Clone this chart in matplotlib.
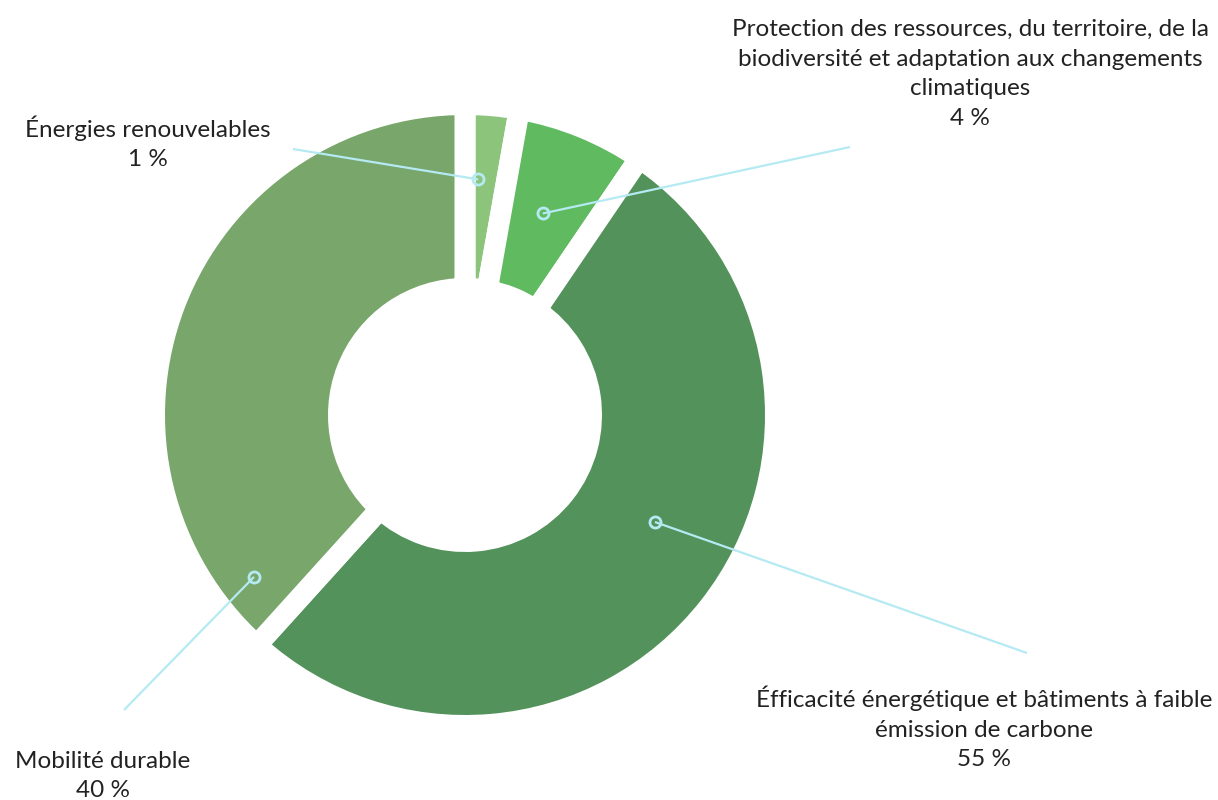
import numpy as np
import matplotlib
matplotlib.use('Agg')
import matplotlib.pyplot as plt

# slices, clockwise from 12 o'clock
labels = ['Énergies renouvelables',
          'Protection des ressources, du territoire, de la\nbiodiversité et adaptation aux changements\nclimatiques',
          'Éfficacité énergétique et bâtiments à faible\némission de carbone',
          'Mobilité durable']
pct_text = ['1 %', '4 %', '55 %', '40 %']
# slice sizes as drawn in the picture (%)
shares = [2.8, 6.7, 52.2, 38.3]
colors = ['#8dc47c', '#60ba60', '#53925b', '#78a66b']

W, H = 1218, 800
fig = plt.figure(figsize=(W / 100, H / 100), dpi=100)
ax = fig.add_axes([0, 0, 1, 1])

cx, cy = 465, 800 - 415
r_out, r_in = 300, 137
gap = 21  # px, white stroke between slices

ax.pie(shares, colors=colors, startangle=90, counterclock=False,
       center=(cx, cy), radius=r_out + gap / 2,
       wedgeprops=dict(width=(r_out - r_in) + gap, edgecolor='white',
                       linewidth=gap * 72 / 100, joinstyle='miter'))
ax.set_xlim(0, W)
ax.set_ylim(0, H)
ax.set_aspect('equal')
ax.axis('off')

# leader lines: (angle from top clockwise, radius) of the marker, end point, label block centre
leaders = [
    ((3.2, 236), (293, 149), (148, 143)),
    ((21.1, 216), (850, 147), (970, 74)),
    ((119.4, 218), (1027, 653), (984, 728)),
    ((232.5, 266), (124, 710), (103, 776)),
]
line_col = '#b5eaf3'
for i, ((ang, rad), end, txt) in enumerate(leaders):
    a = np.radians(ang)
    mx = cx + rad * np.sin(a)
    my = cy + rad * np.cos(a)
    ax.plot([mx, end[0]], [my, 800 - end[1]], color=line_col, lw=1.6,
            solid_capstyle='butt', zorder=3)
    ax.plot([mx], [my], marker='o', ms=8, mfc='none', mec=line_col,
            mew=2, zorder=4)
    ax.text(txt[0], 800 - txt[1], labels[i] + '\n' + pct_text[i],
            ha='center', va='center', fontsize=17.5, family='Lato',
            color='#222222', linespacing=1.5)

fig.savefig('out.png', dpi=100)
